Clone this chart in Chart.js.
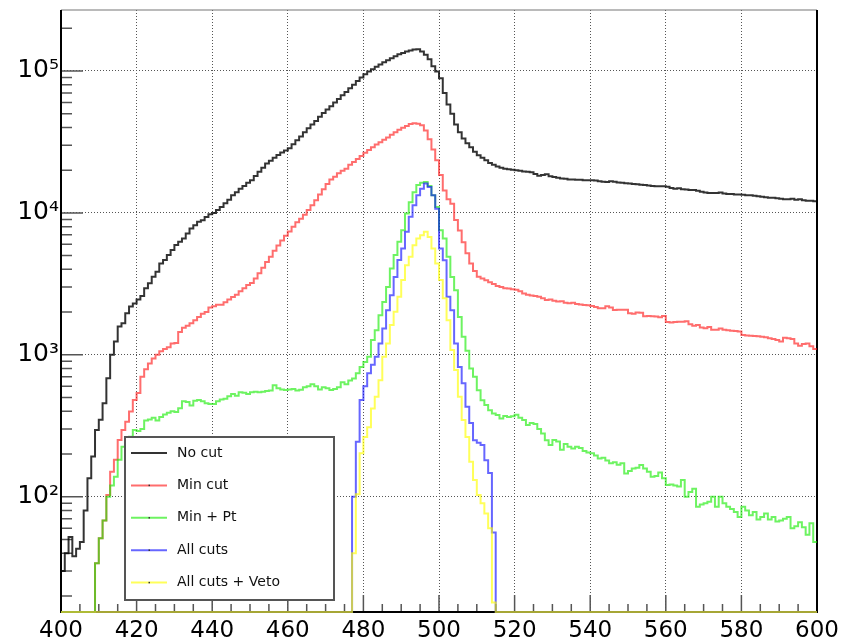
<!DOCTYPE html>
<html>
<head>
<meta charset="utf-8">
<title>Mass spectrum after cuts</title>
<script src="https://cdn.jsdelivr.net/npm/chart.js@4.4.1/dist/chart.umd.min.js"></script>
<style>
    html, body { margin: 0; padding: 0; background: #ffffff; }
    #wrap { width: 843px; height: 640px; }
</style>
</head>
<body>
<div id="wrap"><canvas id="massChart" width="843" height="640"></canvas></div>
<script>
// histogram binning (1 unit per bin)
const binLow = 400;
const binHigh = 600;
const binWidth = 1;

const seriesLabels = ['No cut', 'Min cut', 'Min + Pt', 'All cuts', 'All cuts + Veto'];

// bin contents, each series starts at its first filled bin
const noCutStart = 400;
const noCut = [
    30, 40, 52, 38, 43, 48, 80, 135, 192, 295,                                  // 400
    348, 456, 684, 1000, 1240, 1585, 1670, 1960, 2190, 2300,                    // 410
    2450, 2600, 2940, 3190, 3550, 3850, 4400, 4650, 5040, 5470,                 // 420
    5930, 6250, 6600, 7160, 7760, 8190, 8650, 8880, 9370, 9780,                 // 430
    10000, 10500, 11000, 11700, 12400, 13300, 14000, 14800, 15500, 16300,       // 440
    17000, 18200, 19500, 20800, 22300, 23300, 24500, 25600, 26600, 27500,       // 450
    28500, 30500, 32500, 34500, 37000, 39500, 42000, 44500, 47500, 50500,       // 460
    53500, 56500, 60000, 63500, 67500, 71000, 75500, 80000, 85000, 90000,       // 470
    95000, 99000, 103000, 107000, 111000, 115000, 119000, 123000, 127000, 131000, // 480
    134000, 137000, 139500, 141500, 142000, 137000, 130000, 121000, 108000, 99000, // 490
    89000, 70000, 58000, 50000, 42000, 37000, 33500, 31000, 29000, 27000,       // 500
    25500, 24500, 23500, 22500, 21800, 21200, 20800, 20500, 20300, 20100,       // 510
    20000, 19800, 19600, 19500, 19300, 18800, 18300, 18500, 18700, 18100,       // 520
    17900, 17700, 17500, 17400, 17200, 17200, 17100, 17100, 17000, 17000,       // 530
    17000, 16900, 16700, 16600, 16500, 16700, 16600, 16400, 16300, 16200,       // 540
    16100, 16000, 15900, 15800, 15700, 15600, 15500, 15400, 15400, 15400,       // 550
    15300, 15000, 14800, 14900, 14700, 14600, 14500, 14500, 14300, 14100,       // 560
    13900, 13800, 13800, 13800, 13900, 13700, 13600, 13600, 13500, 13500,       // 570
    13400, 13300, 13300, 13200, 13100, 13000, 12900, 12800, 12800, 12700,       // 580
    12600, 12500, 12500, 12600, 12400, 12500, 12300, 12200, 12200, 12100        // 590
];

const minCutStart = 409;
const minCut = [
    34,                                                                         // 409
    51, 68, 103, 150, 182, 251, 295, 338, 398, 480,                             // 410
    537, 700, 790, 870, 940, 1000, 1060, 1100, 1130, 1200,                      // 420
    1210, 1450, 1550, 1600, 1670, 1750, 1850, 1950, 2000, 2150,                 // 430
    2200, 2250, 2250, 2350, 2450, 2550, 2650, 2800, 2950, 3100,                 // 440
    3200, 3450, 3750, 4100, 4500, 4900, 5400, 5900, 6400, 6900,                 // 450
    7400, 8000, 8600, 9100, 9700, 10500, 11300, 12300, 13500, 14700,           // 460
    16000, 17200, 18000, 19000, 19800, 20500, 21800, 22800, 24000, 25200,       // 470
    26500, 27800, 29000, 30300, 31500, 32800, 34000, 35500, 37000, 38500,       // 480
    39800, 41000, 42300, 42800, 42500, 41500, 38000, 33000, 28000, 23500,       // 490
    18500, 14400, 12500, 11600, 8900, 7500, 6200, 5200, 4400, 3900,             // 500
    3550, 3450, 3350, 3250, 3150, 3050, 3000, 2950, 2930, 2900,                 // 510
    2870, 2800, 2700, 2650, 2620, 2600, 2570, 2500, 2430, 2450,                 // 520
    2400, 2370, 2380, 2330, 2310, 2330, 2280, 2260, 2240, 2230,                 // 530
    2210, 2170, 2130, 2130, 2200, 2150, 2070, 2080, 2080, 2080,                 // 540
    1960, 1950, 1990, 1980, 1870, 1880, 1870, 1860, 1840, 1880,                 // 550
    1700, 1690, 1700, 1710, 1710, 1720, 1640, 1600, 1620, 1560,                 // 560
    1540, 1570, 1500, 1500, 1530, 1500, 1490, 1480, 1470, 1460,                 // 570
    1380, 1370, 1360, 1355, 1350, 1340, 1330, 1310, 1290, 1270,                 // 580
    1240, 1320, 1310, 1290, 1200, 1160, 1190, 1200, 1150, 1100                  // 590
];

const minPtStart = 409;
const minPt = [
    34,                                                                         // 409
    51, 68, 100, 120, 138, 182, 225, 238, 265, 295,                             // 410
    290, 300, 345, 350, 360, 345, 365, 380, 390, 400,                           // 420
    395, 420, 470, 465, 440, 475, 480, 470, 455, 450,                           // 430
    450, 470, 485, 490, 510, 530, 515, 545, 540, 530,                           // 440
    545, 550, 545, 550, 555, 560, 610, 580, 570, 565,                           // 450
    570, 575, 560, 568, 590, 600, 620, 600, 570, 590,                           // 460
    580, 565, 575, 590, 640, 620, 660, 680, 740, 822,                           // 470
    890, 968, 1270, 1490, 1900, 2360, 3010, 4060, 5040, 6250,                   // 480
    7560, 9900, 11900, 14000, 15700, 16300, 16500, 15500, 13300, 11000,         // 490
    7550, 6600, 4900, 3540, 2850, 1850, 1340, 1070, 800, 700,                   // 500
    563, 479, 442, 407, 386, 376, 356, 370, 365, 369,                           // 510
    378, 360, 347, 320, 330, 325, 300, 279, 250, 231,                           // 520
    251, 245, 214, 235, 225, 219, 225, 220, 210, 205,                           // 530
    202, 195, 186, 188, 180, 172, 175, 168, 172, 146,                           // 540
    152, 158, 160, 167, 158, 150, 138, 140, 148, 135,                           // 550
    121, 122, 120, 118, 131, 100, 108, 114, 85, 88,                             // 560
    90, 92, 100, 85, 100, 90, 85, 82, 78, 72,                                   // 570
    85, 80, 74, 78, 69, 72, 76, 69, 72, 67,                                     // 580
    68, 70, 72, 60, 62, 66, 61, 54, 65, 48                                      // 590
];

const allCutsStart = 477;
const allCuts = [
    100, 244, 480,                                                              // 477
    600, 740, 850, 970, 1200, 1530, 2060, 2630, 3540, 4650,                     // 480
    5600, 7350, 9400, 11300, 13300, 14800, 16100, 15200, 13300, 10700,          // 490
    5600, 4640, 2560, 2060, 1200, 820, 630, 430, 330, 250,                      // 500
    240, 231, 181, 147, 56                                                      // 510
];

const vetoStart = 477;
const veto = [
    40, 104, 202,                                                               // 477
    263, 309, 419, 506, 663, 968, 1200, 1620, 2010, 2560,                       // 480
    3360, 4280, 4900, 5910, 6590, 6960, 7350, 6770, 5610, 4400,                 // 490
    3360, 2500, 1750, 1080, 780, 506, 347, 263, 176, 131,                       // 500
    103, 90, 76, 60, 18                                                         // 510
];

// axis setup
const xTickValues = [];
for (let v = 400; v <= 600; v += 5) xTickValues.push(v);
const xLabelStep = 20;
const yDecades = [100, 1000, 10000, 100000];
const yDecadeLabels = ['10²', '10³', '10⁴', '10⁵'];
const yMin = 15.4;
const yMax = 269000;

const seriesCounts = [noCut, minCut, minPt, allCuts, veto];
const seriesStarts = [noCutStart, minCutStart, minPtStart, allCutsStart, vetoStart];
const seriesColors = [
    'rgba(0, 0, 0, 0.8)',
    'rgba(255, 20, 20, 0.62)',
    'rgba(20, 235, 0, 0.62)',
    'rgba(0, 0, 255, 0.6)',
    'rgba(255, 255, 0, 0.65)'
];

// turn bin contents into step points; empty bins sit on the frame minimum like ROOT does
function histPoints(start, counts) {
    const pts = [];
    for (let x = binLow; x < binHigh; x += binWidth) {
        const i = x - start;
        const v = (i >= 0 && i < counts.length) ? counts[i] : yMin;
        pts.push({ x: x, y: v });
    }
    pts.push({ x: binHigh, y: pts[pts.length - 1].y });
    return pts;
}

// frame and ticks pointing into the plot
const frameTicks = {
    id: 'frameTicks',
    beforeDatasetsDraw(chart) {
        const { ctx, chartArea: { left, right, top, bottom }, scales: { x, y } } = chart;
        ctx.save();

        ctx.strokeStyle = '#555';
        ctx.lineWidth = 1.5;
        ctx.beginPath();
        x.ticks.forEach(t => {
            const px = x.getPixelForValue(t.value);
            const len = t.value % xLabelStep === 0 ? 17 : 8;
            ctx.moveTo(px, bottom);
            ctx.lineTo(px, bottom - len);
        });
        yDecades.forEach(d => {
            const py = y.getPixelForValue(d);
            ctx.moveTo(left, py);
            ctx.lineTo(left + 22, py);
        });
        [10, 100, 1000, 10000, 100000].forEach(d => {
            for (let m = 2; m <= 9; m++) {
                const v = m * d;
                if (v < yMin || v > yMax) continue;
                const py = y.getPixelForValue(v);
                ctx.moveTo(left, py);
                ctx.lineTo(left + 11, py);
            }
        });
        ctx.stroke();

        ctx.strokeStyle = '#777';
        ctx.lineWidth = 1.2;
        ctx.beginPath();
        ctx.moveTo(left, top);
        ctx.lineTo(right, top);
        ctx.stroke();

        ctx.strokeStyle = '#000';
        ctx.lineWidth = 2;
        ctx.beginPath();
        ctx.moveTo(left, top);
        ctx.lineTo(left, bottom);
        ctx.lineTo(right, bottom);
        ctx.lineTo(right, top);
        ctx.stroke();

        ctx.restore();
    }
};

// boxed legend inside the plot, drawn over the histograms
const boxLegend = {
    id: 'boxLegend',
    afterDatasetsDraw(chart) {
        const { ctx, chartArea: { left, top } } = chart;
        const x0 = left + 64;
        const y0 = top + 427;
        const w = 209;
        const h = 163;
        const rowH = 32.4;

        ctx.save();
        ctx.fillStyle = '#fff';
        ctx.fillRect(x0, y0, w, h);
        ctx.strokeStyle = '#555';
        ctx.lineWidth = 2;
        ctx.strokeRect(x0, y0, w, h);

        ctx.font = '14px "DejaVu Sans"';
        ctx.textBaseline = 'middle';
        chart.data.datasets.forEach((ds, i) => {
            const cy = y0 + 16 + i * rowH;
            ctx.strokeStyle = ds.borderColor;
            ctx.lineWidth = 2;
            ctx.beginPath();
            ctx.moveTo(x0 + 6, cy);
            ctx.lineTo(x0 + 42, cy);
            ctx.stroke();
            ctx.fillStyle = '#333';
            ctx.fillRect(x0 + 23.5, cy - 0.75, 1.5, 1.5);
            ctx.fillStyle = '#111';
            ctx.fillText(ds.label, x0 + 52, cy);
        });
        ctx.restore();
    }
};

function initMassChart() {
    const ctx = document.getElementById('massChart').getContext('2d');

    const datasets = seriesLabels.map((label, i) => ({
        label: label,
        data: histPoints(seriesStarts[i], seriesCounts[i]),
        borderColor: seriesColors[i],
        backgroundColor: seriesColors[i],
        borderWidth: 2,
        stepped: 'before',
        fill: false,
        pointRadius: 0,
        clip: 3,
        order: seriesLabels.length - i
    }));

    new Chart(ctx, {
        type: 'line',
        data: { datasets: datasets },
        options: {
            responsive: false,
            animation: false,
            events: [],
            layout: { padding: { top: 10, right: 26, left: 0, bottom: 0 } },
            plugins: {
                legend: { display: false },
                tooltip: { enabled: false }
            },
            scales: {
                x: {
                    type: 'linear',
                    min: binLow,
                    max: binHigh,
                    afterBuildTicks: scale => {
                        scale.ticks = xTickValues.map(v => ({ value: v, major: v % xLabelStep === 0 }));
                    },
                    afterFit: scale => {
                        scale.height = 28;
                        scale.paddingLeft = 0;
                        scale.paddingRight = 0;
                    },
                    ticks: {
                        autoSkip: false,
                        maxRotation: 0,
                        padding: 5,
                        color: '#000',
                        font: { family: 'DejaVu Sans', size: 23 },
                        callback: v => (v % xLabelStep === 0 ? String(v) : '')
                    },
                    grid: {
                        drawTicks: false,
                        lineWidth: 1,
                        color: c => (c.tick && c.tick.value % xLabelStep === 0 && c.tick.value > binLow && c.tick.value < binHigh) ? '#555' : 'rgba(0,0,0,0)'
                    },
                    border: { display: false, dash: [1, 2] }
                },
                y: {
                    type: 'logarithmic',
                    min: yMin,
                    max: yMax,
                    afterBuildTicks: scale => {
                        scale.ticks = yDecades.map(v => ({ value: v, major: true }));
                    },
                    afterFit: scale => {
                        scale.width = 61;
                        scale.paddingTop = 0;
                        scale.paddingBottom = 0;
                    },
                    ticks: {
                        padding: 2,
                        color: '#000',
                        font: { family: 'DejaVu Sans', size: 25 },
                        callback: v => {
                            const i = yDecades.indexOf(v);
                            return i >= 0 ? yDecadeLabels[i] : '';
                        }
                    },
                    grid: {
                        drawTicks: false,
                        lineWidth: 1,
                        color: '#555'
                    },
                    border: { display: false, dash: [1, 2] }
                }
            }
        },
        plugins: [frameTicks, boxLegend]
    });
}

document.addEventListener('DOMContentLoaded', initMassChart);
</script>
</body>
</html>
